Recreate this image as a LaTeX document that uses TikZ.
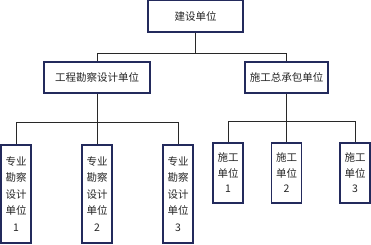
\documentclass[tikz,border=0pt]{standalone}
\usepackage{fontspec}
\setmainfont{Noto Sans CJK SC}
\usepackage{xcolor}
\usetikzlibrary{calc, positioning}
\definecolor{boxline}{RGB}{35,42,92}
\definecolor{wire}{RGB}{40,40,40}

\begin{document}
\begin{tikzpicture}[x=1pt,y=-1pt,
    unit/.style={draw=boxline,line width=1.3pt,fill=white,text=black!85,
        align=center,inner sep=0pt,font=\fontsize{10.5}{16.5}\selectfont},
    tallunit/.style={unit,minimum width=30pt,minimum height=98pt},
    shortunit/.style={unit,minimum width=30pt,minimum height=60pt,
        font=\fontsize{10.5}{15.5}\selectfont},
    link/.style={draw=wire,line width=1pt}]
\useasboundingbox (0,0) rectangle (371,244);

% Top level
\node[unit,minimum width=95pt,minimum height=32pt] (owner) at (195.5,16) {建设单位};

% Second level
\node[unit,minimum width=106pt,minimum height=31pt] (design) at (97,77.5) {工程勘察设计单位};
\node[unit,minimum width=83pt,minimum height=31pt] (general) at (286.5,77.5) {施工总承包单位};

% Design units
\node[tallunit] (designA) at (16,194) {专业\\勘察\\设计\\单位\\1};
\node[tallunit] (designB) at (97,194) {专业\\勘察\\设计\\单位\\2};
\node[tallunit] (designC) at (178,194) {专业\\勘察\\设计\\单位\\3};

% Construction units
\node[shortunit] (buildA) at (228,173) {施工\\单位\\1};
\node[shortunit] (buildB) at (286.5,173) {施工\\单位\\2};
\node[shortunit] (buildC) at (355,173) {施工\\单位\\3};

% Connectors
\coordinate (ownerbar) at ($(owner.south)+(0,21)$);
\draw[link] (owner.south) -- (ownerbar) -| (design.north);
\draw[link] (ownerbar) -| (general.north);

\coordinate (designbar) at ($(design.south)+(0,29)$);
\draw[link] (design.south) -- (designB.north);
\draw[link] (designA.north) |- (designbar) -| (designC.north);

\coordinate (generalbar) at ($(general.south)+(0,28)$);
\draw[link] (general.south) -- (buildB.north);
\draw[link] (buildA.north) |- (generalbar) -| (buildC.north);
\end{tikzpicture}
\end{document}
